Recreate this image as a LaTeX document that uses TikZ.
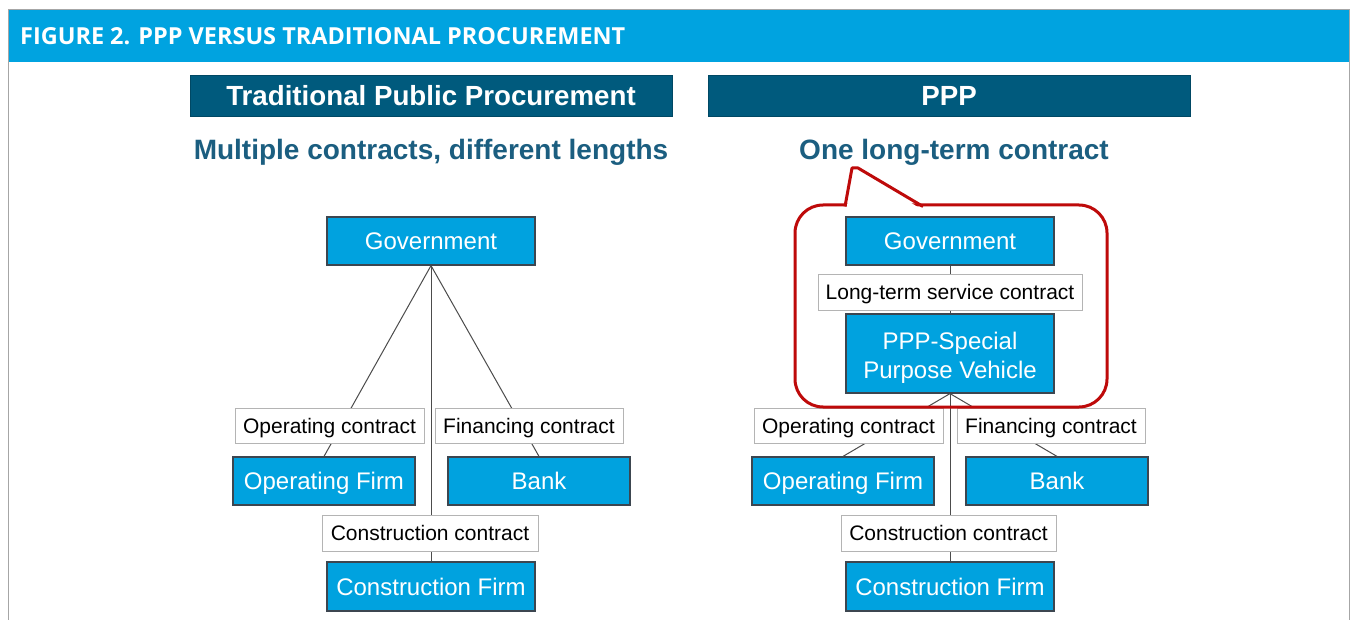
\documentclass[tikz,border=0pt]{standalone}
\usepackage{fontspec}
\setmainfont{Liberation Sans}
\newfontfamily\bannerfont{Open Sans}
\usetikzlibrary{calc}
\definecolor{bannerblue}{HTML}{00A3E0}
\definecolor{boxblue}{HTML}{00A2DF}
\definecolor{darkhead}{HTML}{005A7D}
\definecolor{subtxt}{HTML}{1B5E80}
\definecolor{calloutred}{HTML}{BE0A0A}
\definecolor{framegrey}{HTML}{A6A6A6}
\definecolor{boxedge}{HTML}{3C4650}
\definecolor{labeledge}{HTML}{B4B4B4}
\begin{document}
\begin{tikzpicture}[x=1pt,y=-1pt,
  bluebox/.style={draw=boxedge, line width=1.2pt, fill=boxblue, text=white, inner sep=0pt,
    font=\fontsize{24}{29}\selectfont, align=center, minimum width=208pt, minimum height=48pt,
    text height=17pt, text depth=0pt},
  smallbox/.style={bluebox, minimum width=182pt},
  lbl/.style={draw=labeledge, line width=1pt, fill=white, inner sep=0pt,
    font=\fontsize{21}{25}\selectfont, minimum height=35pt, text height=15pt, text depth=0pt},
  head/.style={fill=darkhead, draw=darkhead!80!black, line width=0.8pt, text=white, inner sep=0pt,
    font=\bfseries\fontsize{27.7}{32}\selectfont, minimum width=482pt, minimum height=41pt,
    text height=20pt, text depth=0pt},
  sub/.style={text=subtxt, inner sep=0pt, font=\bfseries\fontsize{28}{32}\selectfont},
  link/.style={draw=black!70, line width=1pt},
  callout/.style={draw=calloutred, line width=3pt}]
\useasboundingbox (0,0) rectangle (1351,620);
\fill[white] (0,0) rectangle (1351,620);
\fill[bannerblue] (8,10) rectangle (1349.5,62);
\draw[framegrey, line width=1pt] (8,620) -- (8,9.5) -- (1349.5,9.5) -- (1349.5,620);
\node[anchor=base west, text=white, inner sep=0pt] (ttl) at (20,45)
  {\resizebox{605pt}{17pt}{\bannerfont\bfseries FIGURE 2. PPP VERSUS TRADITIONAL PROCUREMENT}};

% headers
\node[head] (h1) at (431,95.5) {Traditional Public Procurement};
\node[head] (h2) at (949,95.5) {PPP};
\node[sub, anchor=base] (s1) at (431,160) {Multiple contracts, different lengths};
\node[sub, anchor=base] (s2) at (954,160) {One long-term contract};

% left diagram boxes
\node[bluebox] (gov1) at (431,241) {Government};
\node[smallbox] (opf1) at (324,481) {Operating Firm};
\node[smallbox] (bank1) at (539,481) {Bank};
\node[bluebox, minimum height=49pt] (cof1) at (431,586.5) {Construction Firm};

% right diagram boxes
\node[bluebox] (gov2) at (950,241) {Government};
\node[bluebox, minimum height=79pt, text height=50pt] (spv) at (950,353.5) {PPP-Special\\Purpose Vehicle};
\node[smallbox] (opf2) at (843,481) {Operating Firm};
\node[smallbox] (bank2) at (1057,481) {Bank};
\node[bluebox, minimum height=49pt] (cof2) at (950,586.5) {Construction Firm};

% connectors
\draw[link] (gov1.south) -- (opf1.north);
\draw[link] (gov1.south) -- (bank1.north);
\draw[link] (gov1.south) -- (cof1.north);
\draw[link] (gov2.south) -- (spv.north);
\draw[link] (spv.south) -- (opf2.north);
\draw[link] (spv.south) -- (bank2.north);
\draw[link] (spv.south) -- (cof2.north);

% contract labels
\node[lbl, minimum width=189pt] (opc1) at (329.5,425.5) {Operating contract};
\node[lbl, minimum width=188pt] (fic1) at (529,425.5) {Financing contract};
\node[lbl, minimum width=216pt, minimum height=36pt] (coc1) at (430,533) {Construction contract};
\node[lbl, minimum width=264pt, minimum height=36pt] (ltc) at (950,292) {Long-term service contract};
\node[lbl, minimum width=189pt] (opc2) at (848.5,425.5) {Operating contract};
\node[lbl, minimum width=188pt] (fic2) at (1051,425.5) {Financing contract};
\node[lbl, minimum width=215pt, minimum height=36pt] (coc2) at (948.5,533) {Construction contract};

% callout
\draw[callout, rounded corners=28pt] (795,205) rectangle (1107,407);
\fill[white] (846.5,209) -- (852.5,170) -- (857.5,170) -- (921,209) -- cycle;
\draw[callout, line join=round] (845,206.5) -- (852,168) -- (858,168) -- (923,206.5);
\end{tikzpicture}
\end{document}
